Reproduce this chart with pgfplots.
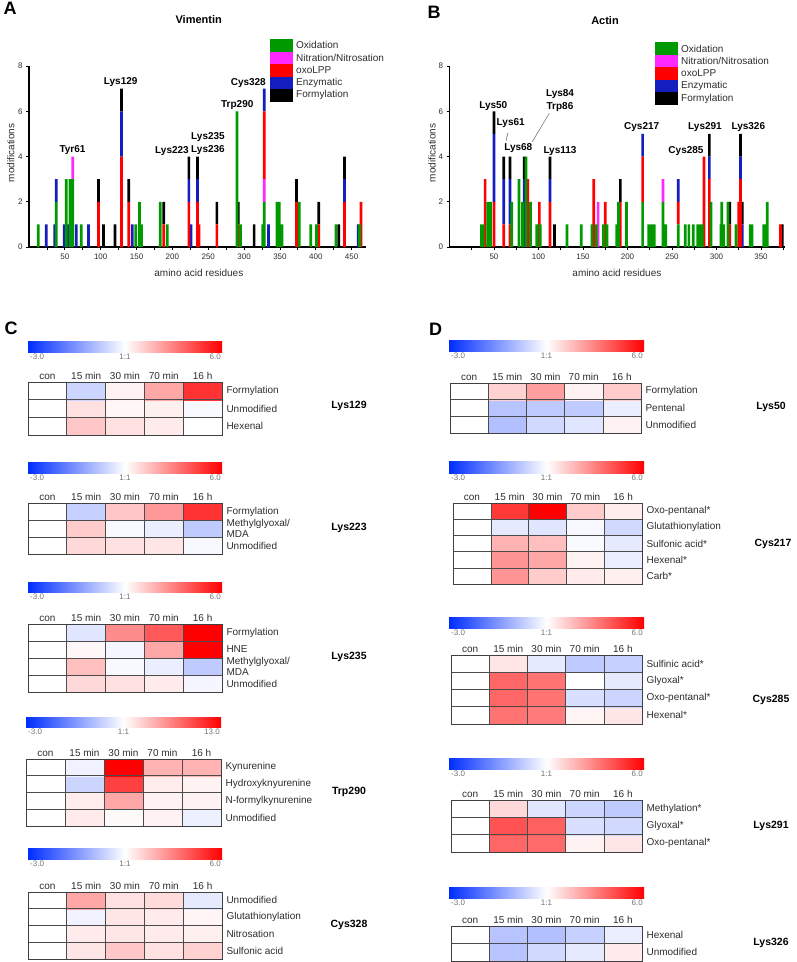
\documentclass[border=0pt]{standalone}
\usepackage{fontspec}
\setmainfont{Liberation Sans}
\usepackage{pgfplots}
\pgfplotsset{compat=1.18}
\usepackage{pgfplotstable}

\definecolor{cox}{RGB}{0,153,0}
\definecolor{cnit}{RGB}{255,40,255}
\definecolor{coxo}{RGB}{255,0,0}
\definecolor{cenz}{RGB}{20,30,190}
\definecolor{cform}{RGB}{0,0,0}
\definecolor{txt}{RGB}{45,45,45}
\definecolor{cblue}{RGB}{0,45,255}

% modifications per residue, Vimentin
\pgfplotstableread{
x   ox nit oxo enz form
13  1  0   0   0   0
24  0  0   0   1   0
36  0  0   0   1   0
38  2  0   0   1   0
49  0  0   0   1   0
52  3  0   0   0   0
55  0  0   0   1   0
57  3  0   0   0   0
61  3  1   0   0   0
66  0  0   0   1   0
73  1  0   0   0   0
83  0  0   0   1   0
97  0  0   2   0   1
104 0  0   0   0   1
120 0  0   0   0   1
129 0  0   4   2   1
139 0  0   2   0   1
144 0  0   0   1   0
149 1  0   0   0   0
154 2  0   0   0   0
157 1  0   0   0   0
183 2  0   0   0   0
188 0  0   1   0   1
193 1  0   0   0   0
223 0  0   2   1   1
226 0  0   0   1   0
235 0  0   2   1   1
237 0  0   1   0   0
262 0  0   1   0   1
290 6  0   0   0   0
292 0  0   1   0   1
295 1  0   0   0   0
314 0  0   0   0   1
326 1  0   0   0   0
328 2  1   3   1   0
334 0  0   0   1   0
346 2  0   0   0   0
349 2  0   0   0   0
353 1  0   0   0   0
373 0  0   2   0   1
377 2  0   0   0   0
393 1  0   0   0   0
401 1  0   0   0   0
404 0  0   1   0   1
428 1  0   0   0   0
432 0  0   0   0   1
440 0  0   2   1   1
459 0  0   0   1   0
461 1  0   0   0   0
463 0  0   2   0   0
}\vimentin

% modifications per residue, Actin
\pgfplotstableread{
x   ox nit oxo enz form
36  1  0   0   0   0
38  1  0   0   0   0
40  0  0   3   0   0
43  2  0   0   0   0
46  2  0   0   0   0
50  0  0   2   3   1
61  0  0   1   2   1
68  0  0   1   2   1
70  2  0   0   0   0
78  3  0   0   0   0
82  2  0   0   0   0
84  0  0   0   3   1
86  4  0   0   0   0
88  0  0   3   0   0
91  2  0   0   0   0
98  1  0   0   0   0
101 0  0   2   0   0
102 1  0   0   0   0
113 0  0   2   1   1
118 0  0   0   0   1
132 1  0   0   0   0
148 1  0   0   0   0
160 1  0   0   0   0
162 0  0   3   0   0
165 1  0   0   0   0
167 0  2   0   0   0
173 1  0   0   0   0
175 0  0   2   0   0
177 1  0   0   0   0
188 1  0   0   0   0
190 2  0   0   0   0
192 0  0   2   0   1
199 2  0   0   0   0
217 2  0   2   1   0
224 1  0   0   0   0
227 1  0   0   0   0
230 1  0   0   0   0
240 2  1   0   0   0
243 1  0   0   0   0
257 1  0   1   1   0
265 1  0   0   0   0
269 1  0   0   0   0
274 1  0   0   0   0
279 1  0   0   0   0
281 1  0   0   0   0
284 1  0   0   0   0
286 0  0   4   0   0
292 0  0   3   1   1
294 2  0   0   0   0
305 1  0   0   0   0
306 2  0   0   0   0
308 1  0   0   0   0
313 2  0   0   0   0
315 0  0   1   0   1
322 1  0   0   0   0
325 0  0   2   0   0
327 0  0   3   1   1
329 0  0   0   1   1
338 1  0   0   0   0
340 1  0   0   0   0
353 1  0   0   0   0
355 1  0   0   0   0
357 2  0   0   0   0
372 0  0   1   0   0
374 0  0   0   0   1
}\actin

\pgfplotsset{
  modbars/.style={
    scale only axis, anchor=south west, height=181pt,
    ybar stacked, bar width=2.7pt,
    ymin=0, ymax=8, xmin=0,
    axis lines=left, axis line style={line width=1.1pt, -},
    tick align=outside, major tick length=3pt, minor tick length=3pt,
    tick style={black, line width=0.8pt},
    ytick={0,2,4,6,8},
    tick label style={font=\fontsize{8}{9}\selectfont, text=txt},
    /pgf/number format/assume math mode=true,
    xlabel={amino acid residues}, ylabel={modifications},
    label style={font=\fontsize{10}{12}\selectfont, text=txt, anchor=center},
  },
  hm/.style={
    scale only axis, anchor=north west,
    xmin=-0.5, xmax=4.5, ymin=-0.5,
    enlargelimits=false,
    colormap={bwr}{rgb255=(0,45,255) rgb255=(255,255,255) rgb255=(255,0,0)},
    point meta min=-1, point meta max=1,
    xtick={0,1,2,3,4}, xticklabels={con,15 min,30 min,70 min,16 h},
    xticklabel pos=upper,
    ytick={0,1,2,3,4}, yticklabel pos=upper,
    major tick length=0pt, minor tick length=0pt,
    minor xtick={0.5,1.5,2.5,3.5}, minor ytick={0.5,1.5,2.5,3.5},
    xminorgrids=true, yminorgrids=true,
    minor grid style={line width=0.6pt, black!70},
    axis line style={line width=0.9pt, black!75},
    axis on top, clip marker paths=true,
    tick label style={font=\fontsize{10}{11}\selectfont, text=txt},
    xticklabel style={inner sep=2pt},
    yticklabel style={anchor=west, align=left, xshift=1pt,
      font=\fontsize{10}{10.5}\selectfont},
  },
  hmcells/.style 2 args={scatter, only marks, point meta=explicit,
    mark=square*, mark size=10pt,
    scatter/use mapped color={draw=mapped color, fill=mapped color},
    mark options={xscale=#1, yscale=#2, line width=0.3pt}},
}

\tikzset{
  ann/.style={font=\bfseries\fontsize{10}{12}\selectfont, inner sep=0pt},
  leg/.style={anchor=west, font=\fontsize{10}{12}\selectfont, text=txt, inner sep=0pt},
  res/.style={font=\bfseries\fontsize{10.5}{12}\selectfont, inner sep=0pt},
  panel/.style={font=\bfseries\fontsize{18}{20}\selectfont, inner sep=0pt},
  ttl/.style={font=\bfseries\fontsize{11}{13}\selectfont, inner sep=0pt},
  cbl/.style={font=\fontsize{8}{9}\selectfont, text=black!55, inner sep=0pt},
}

% colour scale bar: left, top, right, bottom (px), right-hand label
\newcommand{\cbar}[5]{%
  \shade[left color=cblue, right color=red, middle color=white]
    (#1pt,-#2pt) rectangle (#3pt,-#4pt);
  \node[cbl, anchor=north west] at ({#1pt+2pt},{-#4pt-2pt}) {-3.0};
  \node[cbl, anchor=north] at ({(#1pt+#3pt)/2},{-#4pt-2pt}) {1:1};
  \node[cbl, anchor=north east] at ({#3pt-1pt},{-#4pt-2pt}) {#5};
}

\begin{document}
\begin{tikzpicture}
\path[use as bounding box] (0pt,0pt) rectangle (796pt,-962pt);

% ---------------- A: Vimentin ----------------
\node[panel] at (10pt,-8pt) {A};
\node[ttl] at (198.7pt,-20pt) {Vimentin};
\begin{axis}[modbars, at={(29pt,-247pt)}, width=337pt, xmax=470,
  xtick={50,100,...,450}, minor xtick={25,75,...,450},
  xlabel style={at={(axis description cs:0.504,-0.145)}},
  ylabel style={at={(axis description cs:-0.054,0.52)}}]
  \addplot[fill=cox, draw=none] table[x=x, y=ox] {\vimentin};
  \addplot[fill=cnit, draw=none] table[x=x, y=nit] {\vimentin};
  \addplot[fill=coxo, draw=none] table[x=x, y=oxo] {\vimentin};
  \addplot[fill=cenz, draw=none] table[x=x, y=enz] {\vimentin};
  \addplot[fill=cform, draw=none] table[x=x, y=form] {\vimentin};
\end{axis}
\node[ann] at (72.5pt,-150pt) {Tyr61};
\node[ann] at (120.7pt,-82.3pt) {Lys129};
\node[ann] at (172pt,-150.7pt) {Lys223};
\node[ann] at (208pt,-137.3pt) {Lys235};
\node[ann] at (208pt,-150pt) {Lys236};
\node[ann] at (237.3pt,-105.3pt) {Trp290};
\node[ann] at (248.3pt,-83.3pt) {Cys328};
% legend
\fill[cox]   (270pt,-39pt)   rectangle (293.3pt,-51.5pt);
\fill[cnit]  (270pt,-51.5pt) rectangle (293.3pt,-64pt);
\fill[coxo]  (270pt,-64pt)   rectangle (293.3pt,-76.5pt);
\fill[cenz]  (270pt,-76.5pt) rectangle (293.3pt,-89pt);
\fill[cform] (270pt,-89pt)   rectangle (293.3pt,-101.5pt);
\node[leg] at (296pt,-45.3pt) {Oxidation};
\node[leg] at (296pt,-57.8pt) {Nitration/Nitrosation};
\node[leg] at (296pt,-70.3pt) {oxoLPP};
\node[leg] at (296pt,-82.8pt) {Enzymatic};
\node[leg] at (296pt,-95.3pt) {Formylation};

% ---------------- B: Actin ----------------
\node[panel] at (434pt,-12pt) {B};
\node[ttl] at (605pt,-21pt) {Actin};
\begin{axis}[modbars, at={(449.5pt,-247pt)}, width=335.5pt, xmax=377,
  xtick={50,100,...,350}, minor xtick={25,75,...,375},
  xlabel style={at={(axis description cs:0.499,-0.145)}},
  ylabel style={at={(axis description cs:-0.052,0.52)}}]
  \addplot[fill=cox, draw=none] table[x=x, y=ox] {\actin};
  \addplot[fill=cnit, draw=none] table[x=x, y=nit] {\actin};
  \addplot[fill=coxo, draw=none] table[x=x, y=oxo] {\actin};
  \addplot[fill=cenz, draw=none] table[x=x, y=enz] {\actin};
  \addplot[fill=cform, draw=none] table[x=x, y=form] {\actin};
\end{axis}
\node[ann] at (493.3pt,-106pt) {Lys50};
\node[ann] at (510.7pt,-122.7pt) {Lys61};
\node[ann] at (518.3pt,-148.3pt) {Lys68};
\node[ann] at (560pt,-94pt) {Lys84};
\node[ann] at (560pt,-106.7pt) {Trp86};
\node[ann] at (560pt,-150.7pt) {Lys113};
\node[ann] at (641.7pt,-126.7pt) {Cys217};
\node[ann] at (686pt,-150.7pt) {Cys285};
\node[ann] at (705pt,-126.7pt) {Lys291};
\node[ann] at (748.3pt,-126.7pt) {Lys326};
\draw[black!60, line width=0.5pt] (506pt,-140.7pt) -- (508pt,-132.7pt);
\draw[black!60, line width=0.5pt] (532.3pt,-141.7pt) -- (549.3pt,-113.3pt);
\fill[cox]   (655pt,-42.3pt) rectangle (678pt,-54.8pt);
\fill[cnit]  (655pt,-54.8pt) rectangle (678pt,-67.3pt);
\fill[coxo]  (655pt,-67.3pt) rectangle (678pt,-79.8pt);
\fill[cenz]  (655pt,-79.8pt) rectangle (678pt,-92.3pt);
\fill[cform] (655pt,-92.3pt) rectangle (678pt,-104.8pt);
\node[leg] at (681pt,-48.6pt) {Oxidation};
\node[leg] at (681pt,-61.1pt) {Nitration/Nitrosation};
\node[leg] at (681pt,-73.6pt) {oxoLPP};
\node[leg] at (681pt,-86.1pt) {Enzymatic};
\node[leg] at (681pt,-98.6pt) {Formylation};

% ---------------- C: Vimentin heat maps ----------------
\node[panel] at (11pt,-328pt) {C};

\cbar{28}{341}{222}{352}{6.0}
\begin{axis}[hm, at={(28pt,-382pt)}, width=194pt, height=53pt, ymax=2.5,
  yticklabels={Hexenal,Unmodified,Formylation}]
  \addplot[hmcells={1.94}{0.883}] coordinates {
    (0,0)[0] (1,0)[0.22] (2,0)[0.12] (3,0)[0.08] (4,0)[0.0]
    (0,1)[0] (1,1)[0.12] (2,1)[0.03] (3,1)[0.06] (4,1)[-0.03]
    (0,2)[0] (1,2)[-0.2] (2,2)[0.05] (3,2)[0.35] (4,2)[0.8]};
\end{axis}
\node[res] at (349pt,-406pt) {Lys129};

\cbar{28}{462}{222}{473}{6.0}
\begin{axis}[hm, at={(28pt,-503pt)}, width=194pt, height=51pt, ymax=2.5,
  yticklabels={Unmodified,{Methylglyoxal/\\MDA},Formylation}]
  \addplot[hmcells={1.94}{0.85}] coordinates {
    (0,0)[0] (1,0)[0.15] (2,0)[0.12] (3,0)[0.1] (4,0)[-0.03]
    (0,1)[0] (1,1)[0.2] (2,1)[-0.03] (3,1)[-0.08] (4,1)[-0.25]
    (0,2)[0] (1,2)[-0.22] (2,2)[0.22] (3,2)[0.4] (4,2)[0.8]};
\end{axis}
\node[res] at (349pt,-528pt) {Lys223};

\cbar{28}{582}{222}{592}{6.0}
\begin{axis}[hm, at={(28pt,-624pt)}, width=194pt, height=68pt, ymax=3.5,
  yticklabels={Unmodified,{Methylglyoxal/\\MDA},HNE,Formylation}]
  \addplot[hmcells={1.94}{0.85}] coordinates {
    (0,0)[0] (1,0)[0.15] (2,0)[0.12] (3,0)[0.08] (4,0)[-0.04]
    (0,1)[0] (1,1)[0.25] (2,1)[-0.03] (3,1)[-0.08] (4,1)[-0.25]
    (0,2)[0] (1,2)[0.03] (2,2)[-0.04] (3,2)[0.35] (4,2)[1.0]
    (0,3)[0] (1,3)[-0.12] (2,3)[0.45] (3,3)[0.65] (4,3)[1.0]};
\end{axis}
\node[res] at (349pt,-657pt) {Lys235};

\cbar{26}{717}{221}{727}{13.0}
\begin{axis}[hm, at={(26pt,-759pt)}, width=195pt, height=67pt, ymax=3.5,
  yticklabels={Unmodified,N-formylkynurenine,Hydroxyknyurenine,Kynurenine}]
  \addplot[hmcells={1.95}{0.8375}] coordinates {
    (0,0)[0] (1,0)[0.08] (2,0)[0.02] (3,0)[0.05] (4,0)[-0.07]
    (0,1)[0] (1,1)[0.07] (2,1)[0.35] (3,1)[0.05] (4,1)[0.05]
    (0,2)[0] (1,2)[-0.2] (2,2)[0.75] (3,2)[0.07] (4,2)[0.05]
    (0,3)[0] (1,3)[-0.06] (2,3)[1.0] (3,3)[0.3] (4,3)[0.3]};
\end{axis}
\node[res] at (349pt,-792pt) {Trp290};

\cbar{28}{848}{222}{859}{6.0}
\begin{axis}[hm, at={(28pt,-892pt)}, width=194pt, height=67pt, ymax=3.5,
  yticklabels={Sulfonic acid,Nitrosation,Glutathionylation,Unmodified}]
  \addplot[hmcells={1.94}{0.8375}] coordinates {
    (0,0)[0] (1,0)[0.1] (2,0)[0.22] (3,0)[0.12] (4,0)[0.18]
    (0,1)[0] (1,1)[0.08] (2,1)[0.1] (3,1)[0.08] (4,1)[0.06]
    (0,2)[0] (1,2)[-0.06] (2,2)[0.1] (3,2)[0.08] (4,2)[0.04]
    (0,3)[0] (1,3)[0.35] (2,3)[0.12] (3,3)[0.14] (4,3)[-0.1]};
\end{axis}
\node[res] at (349pt,-925pt) {Cys328};

% ---------------- D: Actin heat maps ----------------
\node[panel] at (435.5pt,-329pt) {D};

\cbar{449}{340}{644}{351}{6.0}
\begin{axis}[hm, at={(450pt,-383pt)}, width=191pt, height=50pt, ymax=2.5,
  yticklabels={Unmodified,Pentenal,Formylation}]
  \addplot[hmcells={1.91}{0.833}] coordinates {
    (0,0)[0] (1,0)[-0.3] (2,0)[-0.18] (3,0)[-0.12] (4,0)[0.05]
    (0,1)[0] (1,1)[-0.28] (2,1)[-0.25] (3,1)[-0.25] (4,1)[-0.08]
    (0,2)[0] (1,2)[0.18] (2,2)[0.38] (3,2)[0.05] (4,2)[0.2]};
\end{axis}
\node[res] at (771pt,-407pt) {Lys50};

\cbar{449}{461}{644}{473}{6.0}
\begin{axis}[hm, at={(453pt,-503pt)}, width=189pt, height=81pt, ymax=4.5,
  yticklabels={Carb*,Hexenal*,Sulfonic acid*,Glutathionylation,Oxo-pentanal*}]
  \addplot[hmcells={1.89}{0.81}] coordinates {
    (0,0)[0] (1,0)[0.42] (2,0)[0.2] (3,0)[0.08] (4,0)[0.06]
    (0,1)[0] (1,1)[0.42] (2,1)[0.35] (3,1)[0.05] (4,1)[-0.08]
    (0,2)[0] (1,2)[0.3] (2,2)[0.25] (3,2)[-0.02] (4,2)[-0.1]
    (0,3)[0] (1,3)[-0.1] (2,3)[-0.12] (3,3)[-0.03] (4,3)[-0.18]
    (0,4)[0] (1,4)[0.78] (2,4)[1.0] (3,4)[0.2] (4,4)[0.07]};
\end{axis}
\node[res] at (773pt,-544pt) {Cys217};

\cbar{449}{617}{644}{628}{6.0}
\begin{axis}[hm, at={(451pt,-655pt)}, width=191pt, height=69pt, ymax=3.5,
  yticklabels={Hexenal*,Oxo-pentanal*,Glyoxal*,Sulfinic acid*}]
  \addplot[hmcells={1.91}{0.8625}] coordinates {
    (0,0)[0] (1,0)[0.55] (2,0)[0.52] (3,0)[0.04] (4,0)[0.1]
    (0,1)[0] (1,1)[0.6] (2,1)[0.55] (3,1)[-0.15] (4,1)[-0.2]
    (0,2)[0] (1,2)[0.6] (2,2)[0.55] (3,2)[0.0] (4,2)[-0.1]
    (0,3)[0] (1,3)[0.1] (2,3)[-0.1] (3,3)[-0.25] (4,3)[-0.22]};
\end{axis}
\node[res] at (771pt,-700pt) {Cys285};

\cbar{449}{758}{644}{769}{6.0}
\begin{axis}[hm, at={(451pt,-800pt)}, width=191pt, height=52pt, ymax=2.5,
  yticklabels={Oxo-pentanal*,Glyoxal*,Methylation*}]
  \addplot[hmcells={1.91}{0.867}] coordinates {
    (0,0)[0] (1,0)[0.6] (2,0)[0.58] (3,0)[0.05] (4,0)[0.1]
    (0,1)[0] (1,1)[0.68] (2,1)[0.62] (3,1)[-0.15] (4,1)[-0.18]
    (0,2)[0] (1,2)[0.15] (2,2)[-0.12] (3,2)[-0.2] (4,2)[-0.25]};
\end{axis}
\node[res] at (771pt,-826pt) {Lys291};

\cbar{449}{887}{644}{898}{6.0}
\begin{axis}[hm, at={(451pt,-926pt)}, width=191pt, height=35pt, ymax=1.5,
  yticklabels={Unmodified,Hexenal}]
  \addplot[hmcells={1.91}{0.875}] coordinates {
    (0,0)[0] (1,0)[-0.28] (2,0)[-0.18] (3,0)[-0.1] (4,0)[0.08]
    (0,1)[0] (1,1)[-0.28] (2,1)[-0.3] (3,1)[-0.22] (4,1)[-0.08]};
\end{axis}
\node[res] at (771pt,-943pt) {Lys326};

\end{tikzpicture}
\end{document}
